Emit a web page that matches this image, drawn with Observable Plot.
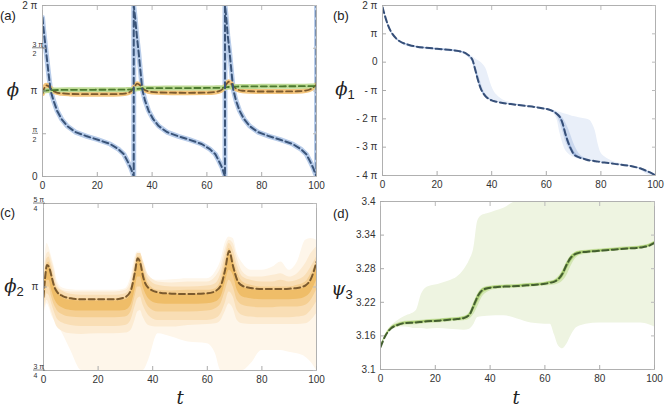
<!DOCTYPE html>
<html><head><meta charset="utf-8">
<script src="https://cdn.jsdelivr.net/npm/d3@7"></script>
<script src="https://cdn.jsdelivr.net/npm/@observablehq/plot@0.6"></script>
<style>
body{margin:0;background:#fff;}
#fig{position:relative;width:665px;height:407px;overflow:hidden;font-family:"Liberation Sans",Arial,sans-serif;}
.panel{position:absolute;}
.lab{position:absolute;font-size:13px;line-height:1;color:#222;}
.ax{position:absolute;font-family:"DejaVu Serif",serif;font-style:italic;font-size:18px;line-height:1;color:#222;transform:translate(-50%,-50%);white-space:nowrap;}
.ax sub{font-style:normal;font-family:"Liberation Sans",Arial,sans-serif;font-size:13px;vertical-align:-4px;}
</style></head><body><div id="fig"></div>
<script>
// ---------- data ----------
const xTicks = [0, 20, 40, 60, 80, 100];

// (a) phi1 mod 2pi (units of pi)
const aT = [0,0.4,1.0,1.7,2.3,3.0,4.0,5.3,7,9,12,16.2,20.2,24.7,27.7,29.7,31,32.2,32.9,33.3,
  33.3,33.8,34.4,35.1,35.7,36.4,37.4,38.7,40.4,42.4,45.4,49.6,53.6,58.1,61.1,63.1,64.4,65.6,66.2,66.6,
  66.6,67.0,67.6,68.3,68.9,69.6,70.6,71.9,73.6,75.6,78.6,82.8,86.8,91.3,94.3,96.3,97.6,98.8,99.5,100,100];
const aPhi = [1.86,1.72,1.55,1.35,1.18,1.0,0.89,0.77,0.67,0.59,0.52,0.47,0.43,0.38,0.32,0.26,0.18,0.1,0.04,0,
  2,1.86,1.65,1.45,1.25,1.02,0.89,0.77,0.67,0.59,0.52,0.47,0.43,0.38,0.32,0.26,0.18,0.1,0.04,0,
  2,1.88,1.65,1.45,1.25,1.02,0.89,0.77,0.67,0.59,0.52,0.47,0.43,0.38,0.32,0.26,0.18,0.1,0.04,0,2];

// (b) phi1 (units of pi)
const bT = [0,2,5,10,20,28,31,33,34,35,36,37,38,39,40,41,42,44,47,52,58,62,64,65,66,67,68,69,70,72,74,76,77,78,79,80,82,85,90,95,97,98,100];
const bMean = [1.94,1.31,0.84,0.6,0.47,0.39,0.28,0.07,-0.28,-0.64,-0.93,-1.11,-1.23,-1.3,-1.35,-1.38,-1.4,-1.44,-1.48,-1.54,-1.62,-1.71,-1.84,-1.94,-2.17,-2.53,-2.83,-3.06,-3.24,-3.36,-3.42,-3.47,-3.48,-3.5,-3.51,-3.53,-3.55,-3.59,-3.65,-3.77,-3.85,-3.89,-4.0];
const bOutLo = [1.9,1.27,0.8,0.53,0.41,0.33,0.2,-0.05,-0.36,-0.72,-0.99,-1.15,-1.26,-1.33,-1.38,-1.41,-1.43,-1.47,-1.51,-1.57,-1.66,-1.77,-2.05,-2.5,-2.85,-3.1,-3.22,-3.3,-3.36,-3.43,-3.47,-3.5,-3.51,-3.53,-3.54,-3.56,-3.58,-3.62,-3.68,-3.84,-3.97,-4.0,-4.0];
const bOutHi = [1.96,1.33,0.85,0.61,0.48,0.4,0.3,0.2,0.12,0.06,0.0,-0.1,-0.25,-0.55,-0.85,-1.05,-1.17,-1.33,-1.43,-1.51,-1.6,-1.68,-1.74,-1.77,-1.8,-1.83,-1.86,-1.89,-1.92,-1.96,-2.0,-2.06,-2.2,-2.45,-2.9,-3.2,-3.38,-3.52,-3.63,-3.75,-3.83,-3.87,-3.95];
const bMidLo = [1.91,1.28,0.81,0.56,0.43,0.35,0.23,0.0,-0.32,-0.68,-0.96,-1.13,-1.24,-1.31,-1.36,-1.39,-1.41,-1.45,-1.49,-1.55,-1.64,-1.74,-1.92,-2.15,-2.45,-2.78,-3.0,-3.16,-3.3,-3.4,-3.44,-3.48,-3.49,-3.51,-3.52,-3.54,-3.56,-3.6,-3.66,-3.8,-3.9,-3.94,-4.0];
const bMidHi = [1.95,1.32,0.85,0.61,0.48,0.4,0.29,0.12,-0.1,-0.38,-0.7,-0.98,-1.15,-1.26,-1.32,-1.36,-1.39,-1.43,-1.47,-1.53,-1.61,-1.69,-1.78,-1.86,-1.96,-2.12,-2.32,-2.58,-2.85,-3.22,-3.37,-3.45,-3.47,-3.49,-3.5,-3.52,-3.54,-3.58,-3.64,-3.76,-3.84,-3.88,-3.97];
const bInLo = [1.92,1.29,0.82,0.58,0.45,0.37,0.26,0.04,-0.3,-0.66,-0.95,-1.12,-1.24,-1.31,-1.36,-1.39,-1.41,-1.45,-1.49,-1.55,-1.63,-1.72,-1.87,-2.0,-2.25,-2.6,-2.9,-3.1,-3.27,-3.38,-3.43,-3.48,-3.49,-3.51,-3.52,-3.54,-3.56,-3.6,-3.66,-3.78,-3.87,-3.91,-4.0];
const bInHi = [1.95,1.32,0.85,0.61,0.48,0.4,0.29,0.09,-0.2,-0.52,-0.84,-1.05,-1.2,-1.28,-1.34,-1.37,-1.4,-1.44,-1.48,-1.54,-1.62,-1.7,-1.81,-1.9,-2.06,-2.38,-2.68,-2.92,-3.12,-3.32,-3.4,-3.46,-3.48,-3.5,-3.51,-3.53,-3.55,-3.59,-3.65,-3.77,-3.85,-3.89,-3.99];

// (c) phi2 (units of pi)
const cT = [0,0.5,1.3,2,3,4,5,7,10,14,20,26,30,32,33.5,34.5,35.5,36.5,38.5,42,47,53,60,63,65,66.5,68,69.5,71,73,76,80,84,87,90,93,96,98,100];
const cMean = [0.97,1.02,1.066,1.06,1.03,1.0,0.985,0.973,0.966,0.963,0.963,0.963,0.97,0.99,1.045,1.086,1.07,1.03,0.997,0.984,0.98,0.979,0.981,0.988,1.005,1.05,1.108,1.06,1.02,1.003,0.997,0.994,0.994,0.994,0.995,0.997,1.005,1.025,1.075];
const cL1Lo = [0.955,0.985,1.02,1.02,0.99,0.965,0.95,0.937,0.93,0.928,0.928,0.928,0.93,0.945,0.99,1.03,1.03,1.0,0.965,0.95,0.948,0.948,0.95,0.955,0.97,1.01,1.05,1.035,0.99,0.97,0.965,0.962,0.962,0.962,0.962,0.963,0.97,0.985,1.02];
const cL1Hi = [0.975,1.02,1.06,1.065,1.035,1.0,0.985,0.967,0.96,0.958,0.958,0.958,0.962,0.98,1.04,1.08,1.08,1.05,1.0,0.982,0.978,0.977,0.98,0.985,1.005,1.05,1.1,1.075,1.03,1.0,0.993,0.99,0.99,0.99,0.99,0.992,1.0,1.02,1.06];
const cL2Lo = [0.95,0.97,1.0,1.0,0.97,0.945,0.93,0.917,0.91,0.908,0.908,0.908,0.91,0.925,0.97,1.0,1.0,0.975,0.94,0.925,0.925,0.925,0.928,0.935,0.95,0.985,1.02,1.0,0.96,0.945,0.94,0.938,0.938,0.94,0.94,0.94,0.945,0.96,0.99];
const cL2Hi = [0.98,1.03,1.07,1.075,1.05,1.015,0.995,0.977,0.968,0.965,0.965,0.965,0.97,0.99,1.05,1.09,1.09,1.06,1.01,0.99,0.988,0.99,0.99,0.995,1.02,1.07,1.115,1.09,1.045,1.015,1.005,1.0,1.0,1.0,1.0,1.005,1.015,1.04,1.075];
const cL3Lo = [0.94,0.955,0.98,0.975,0.95,0.925,0.905,0.892,0.885,0.882,0.882,0.882,0.885,0.9,0.94,0.965,0.97,0.945,0.915,0.9,0.9,0.9,0.9,0.905,0.92,0.95,0.985,0.97,0.93,0.915,0.91,0.908,0.908,0.908,0.908,0.91,0.915,0.93,0.955];
const cL3Hi = [0.985,1.04,1.085,1.09,1.065,1.03,1.0,0.987,0.978,0.975,0.975,0.975,0.98,1.0,1.065,1.1,1.1,1.075,1.025,1.005,1.0,1.0,1.003,1.01,1.04,1.09,1.13,1.11,1.065,1.03,1.02,1.015,1.015,1.02,1.015,1.02,1.035,1.06,1.09];
const cL4Lo = [0.93,0.94,0.96,0.95,0.925,0.9,0.88,0.867,0.86,0.858,0.86,0.86,0.862,0.87,0.9,0.925,0.93,0.91,0.885,0.88,0.88,0.885,0.888,0.89,0.9,0.925,0.95,0.935,0.9,0.89,0.888,0.888,0.888,0.888,0.888,0.888,0.89,0.9,0.92];
const cL4Hi = [0.99,1.06,1.1,1.105,1.08,1.05,1.01,0.99,0.985,0.985,0.985,0.985,0.99,1.015,1.075,1.1,1.1,1.08,1.035,1.015,1.012,1.015,1.015,1.03,1.06,1.11,1.14,1.13,1.085,1.045,1.03,1.03,1.035,1.04,1.03,1.04,1.07,1.1,1.12];
const cL5Lo = [0.92,0.93,0.95,0.94,0.915,0.9,0.89,0.86,0.81,0.75,0.75,0.75,0.75,0.75,0.75,0.75,0.75,0.75,0.78,0.86,0.85,0.835,0.83,0.8,0.75,0.75,0.75,0.75,0.75,0.75,0.77,0.81,0.81,0.81,0.805,0.8,0.79,0.775,0.75];
const cL5Hi = [0.99,1.08,1.13,1.12,1.09,1.06,1.02,0.997,0.992,0.99,0.99,0.99,0.995,1.03,1.09,1.105,1.105,1.065,1.03,1.02,1.022,1.025,1.025,1.045,1.08,1.13,1.15,1.145,1.1,1.07,1.05,1.05,1.06,1.075,1.05,1.075,1.14,1.145,1.14];

// (d) psi3 (radians)
const dT = [0,2,4,6,9,13,15,17,21,25,28,30.5,32.5,34,35.5,37,39,42,45,50,55,60,62,63.5,65,66.5,68,69.5,71,73,75,80,85,90,95,98,100];
const dMean = [3.14,3.162,3.174,3.179,3.183,3.184,3.185,3.186,3.187,3.189,3.19,3.192,3.198,3.214,3.231,3.241,3.245,3.247,3.248,3.249,3.251,3.253,3.255,3.257,3.262,3.272,3.288,3.3,3.306,3.309,3.31,3.312,3.314,3.316,3.318,3.321,3.326];
const dOutLo = [3.14,3.16,3.172,3.176,3.176,3.173,3.173,3.172,3.173,3.172,3.171,3.17,3.172,3.18,3.193,3.194,3.195,3.196,3.196,3.19,3.183,3.181,3.181,3.162,3.142,3.137,3.145,3.16,3.172,3.178,3.181,3.183,3.183,3.183,3.183,3.18,3.176];
const dOutHi = [3.142,3.165,3.178,3.186,3.195,3.205,3.235,3.247,3.252,3.258,3.265,3.278,3.295,3.315,3.365,3.375,3.378,3.383,3.388,3.4,3.4,3.4,3.4,3.4,3.4,3.4,3.4,3.4,3.4,3.4,3.4,3.4,3.4,3.4,3.4,3.4,3.4];
const dMidLo = [3.139,3.158,3.17,3.175,3.179,3.18,3.181,3.182,3.183,3.185,3.186,3.187,3.19,3.198,3.212,3.228,3.238,3.243,3.244,3.245,3.247,3.249,3.25,3.251,3.253,3.258,3.268,3.284,3.297,3.304,3.306,3.309,3.311,3.313,3.315,3.318,3.322];
const dMidHi = [3.141,3.164,3.177,3.182,3.186,3.187,3.188,3.189,3.19,3.192,3.193,3.195,3.202,3.219,3.235,3.244,3.248,3.25,3.251,3.252,3.254,3.256,3.258,3.26,3.266,3.277,3.292,3.303,3.309,3.312,3.313,3.315,3.317,3.319,3.321,3.324,3.329];
const dInLo = [3.14,3.16,3.172,3.177,3.181,3.182,3.183,3.184,3.185,3.187,3.188,3.189,3.194,3.205,3.22,3.234,3.241,3.245,3.246,3.247,3.249,3.251,3.253,3.254,3.257,3.264,3.278,3.292,3.301,3.306,3.308,3.31,3.312,3.314,3.316,3.319,3.324];
const dInHi = [3.141,3.163,3.176,3.181,3.185,3.186,3.187,3.188,3.189,3.191,3.192,3.194,3.2,3.216,3.233,3.243,3.247,3.249,3.25,3.251,3.253,3.255,3.257,3.259,3.264,3.275,3.29,3.302,3.308,3.311,3.312,3.314,3.316,3.318,3.32,3.323,3.328];

// tick labels
const aTicks = [0, 0.5, 1, 1.5, 2];
const aTickLabels = ["0", "", "π", "", "2 π"];
const aFracs = [{v: 0.5, n: "π", d: "2"}, {v: 1.5, n: "3 π", d: "2"}];
const bTicks = [-4, -3, -2, -1, 0, 1, 2];
const bTickLabels = ["- 4 π", "- 3 π", "- 2 π", "- π", "0", "π", "2 π"];
const cTicks = [0.75, 1, 1.25];
const cTickLabels = ["", "π", ""];
const cFracs = [{v: 0.75, n: "3 π", d: "4"}, {v: 1.25, n: "5 π", d: "4"}];
const dTicks = [3.1, 3.16, 3.22, 3.28, 3.34, 3.4];
const dTickLabels = ["3.1", "3.16", "3.22", "3.28", "3.34", "3.4"];

// ---------- helpers ----------
const rows = (T, cols) => T.map((t, i) => { const r = {t}; for (const k in cols) r[k] = cols[k][i]; return r; });
const DASH = "6,3.5";
function band(T, lo, hi, fill) {
  return Plot.areaY(rows(T, {lo, hi}), {x: "t", y1: "lo", y2: "hi", fill, curve: "monotone-x", clip: true});
}
function fracMarks(fr) {
  if (!fr) return [];
  return [
    Plot.text(fr, {y: "v", text: "n", frameAnchor: "left", dx: -10, dy: -4, fontSize: 7, fill: "#333", ariaDescription: "fracnum"}),
    Plot.text(fr, {y: "v", text: "d", frameAnchor: "left", dx: -10, dy: 5.5, fontSize: 7, fill: "#333"})
  ];
}
function panel({W, H, ml, mr, mt, mb, ydom, yticks, ylabels, fracs, marks}) {
  return Plot.plot({
    width: W, height: H, marginLeft: ml, marginRight: mr, marginTop: mt, marginBottom: mb,
    x: {domain: [0, 100]}, y: {domain: ydom},
    style: {fontFamily: "Liberation Sans, Arial, sans-serif", background: "transparent", overflow: "visible"},
    marks: [
      ...marks,
      Plot.frame({stroke: "#b0b0b0"}),
      Plot.axisX({anchor: "bottom", ticks: xTicks, tickFormat: d => String(d), label: null, tickSize: -4, tickPadding: 9, fontSize: 10, stroke: "#aaa", fill: "#333"}),
      Plot.axisX({anchor: "top", ticks: xTicks, tickFormat: () => "", label: null, tickSize: -4, stroke: "#bbb"}),
      Plot.axisY({anchor: "left", ticks: yticks, tickFormat: d => ylabels[yticks.indexOf(d)] ?? "", label: null, tickSize: -4, tickPadding: 9, fontSize: 10, stroke: "#aaa", fill: "#333"}),
      Plot.axisY({anchor: "right", ticks: yticks, tickFormat: () => "", label: null, tickSize: -4, stroke: "#bbb"}),
      ...fracMarks(fracs)
    ]
  });
}

const fig = document.getElementById("fig");
function place(svg, left, top) {
  svg.classList.add("panel"); svg.style.left = left + "px"; svg.style.top = top + "px"; fig.appendChild(svg);
  // fraction bars under the numerators of fractional tick labels
  const nums = d3.select(svg).selectAll('g[aria-description="fracnum"] text');
  nums.each(function () {
    const b = this.getBBox();
    const yb = b.y + b.height + 0.3;
    const tr = this.getAttribute("transform");
    const ln = d3.select(this.parentNode).append("line")
      .attr("x1", b.x - 0.5).attr("x2", b.x + b.width + 0.5)
      .attr("y1", yb).attr("y2", yb)
      .attr("stroke", "#333").attr("stroke-width", 0.6);
    if (tr) ln.attr("transform", tr);
  });
}
function html(cls, left, top, content) { const d = document.createElement("div"); d.className = cls; d.style.left = left + "px"; d.style.top = top + "px"; d.innerHTML = content; fig.appendChild(d); }

// ---------- (a) ----------
const aRows = rows(aT, {v: aPhi});
const cRowsA = rows(cT, {v: cMean});
const dRowsA = dT.map((t, i) => ({t, v: dMean[i] / Math.PI}));
place(panel({
  W: 330, H: 195, ml: 42, mr: 14, mt: 5, mb: 19, ydom: [0, 2], yticks: aTicks, ylabels: aTickLabels, fracs: aFracs,
  marks: [
    Plot.line(aRows, {x: "t", y: "v", stroke: "#b9cdea", strokeWidth: 5, curve: "linear", clip: true}),
    Plot.line(cRowsA, {x: "t", y: "v", stroke: "#f4c57c", strokeWidth: 5, curve: "monotone-x", clip: true}),
    Plot.line(dRowsA, {x: "t", y: "v", stroke: "#bfdb96", strokeWidth: 5, curve: "monotone-x", clip: true}),
    Plot.line(cRowsA, {x: "t", y: "v", stroke: "#7b5a2e", strokeWidth: 1.8, strokeDasharray: DASH, curve: "monotone-x", clip: true}),
    Plot.line(dRowsA, {x: "t", y: "v", stroke: "#4b7a2f", strokeWidth: 1.8, strokeDasharray: DASH, curve: "monotone-x", clip: true}),
    Plot.line(aRows, {x: "t", y: "v", stroke: "#3a5479", strokeWidth: 2, strokeDasharray: DASH, curve: "linear", clip: true})
  ]
}), 0, 0);

// ---------- (b) ----------
place(panel({
  W: 335, H: 195, ml: 52, mr: 10, mt: 5, mb: 20, ydom: [-4, 2], yticks: bTicks, ylabels: bTickLabels,
  marks: [
    band(bT, bOutLo, bOutHi, "#e9eff9"),
    band(bT, bMidLo, bMidHi, "#cbd8ee"),
    band(bT, bInLo, bInHi, "#a3bae0"),
    Plot.line(rows(bT, {v: bMean}), {x: "t", y: "v", stroke: "#364f78", strokeWidth: 2, strokeDasharray: DASH, curve: "monotone-x", clip: true})
  ]
}), 330, 0);

// ---------- (c) ----------
place(panel({
  W: 330, H: 217, ml: 43, mr: 14, mt: 13, mb: 37, ydom: [0.75, 1.25], yticks: cTicks, ylabels: cTickLabels, fracs: cFracs,
  marks: [
    band(cT, cL5Lo, cL5Hi, "#fef6ea"),
    band(cT, cL4Lo, cL4Hi, "#fcebd2"),
    band(cT, cL3Lo, cL3Hi, "#f9deb5"),
    band(cT, cL2Lo, cL2Hi, "#f5cf92"),
    band(cT, cL1Lo, cL1Hi, "#efbd68"),
    Plot.line(rows(cT, {v: cMean}), {x: "t", y: "v", stroke: "#7b5a2e", strokeWidth: 2, strokeDasharray: DASH, curve: "monotone-x", clip: true})
  ]
}), 0, 190);

// ---------- (d) ----------
place(panel({
  W: 335, H: 217, ml: 50, mr: 11, mt: 11, mb: 38, ydom: [3.1, 3.4], yticks: dTicks, ylabels: dTickLabels,
  marks: [
    band(dT, dOutLo, dOutHi, "#eef4e1"),
    band(dT, dMidLo, dMidHi, "#d3e6b3"),
    band(dT, dInLo, dInHi, "#a9cd72"),
    Plot.line(rows(dT, {v: dMean}), {x: "t", y: "v", stroke: "#445f30", strokeWidth: 2, strokeDasharray: DASH, curve: "monotone-x", clip: true})
  ]
}), 330, 190);

// ---------- labels ----------
html("lab", 0, 9, "(a)");
html("lab", 333, 9, "(b)");
html("lab", 0, 206, "(c)");
html("lab", 333, 207, "(d)");
html("ax", 13, 90, "ϕ");
html("ax", 345, 90, "ϕ<sub>1</sub>");
html("ax", 14, 287, "ϕ<sub>2</sub>");
html("ax", 342, 290, "ψ<sub>3</sub>");
html("ax", 180, 398, "t");
html("ax", 516, 398, "t");
</script></body></html>
